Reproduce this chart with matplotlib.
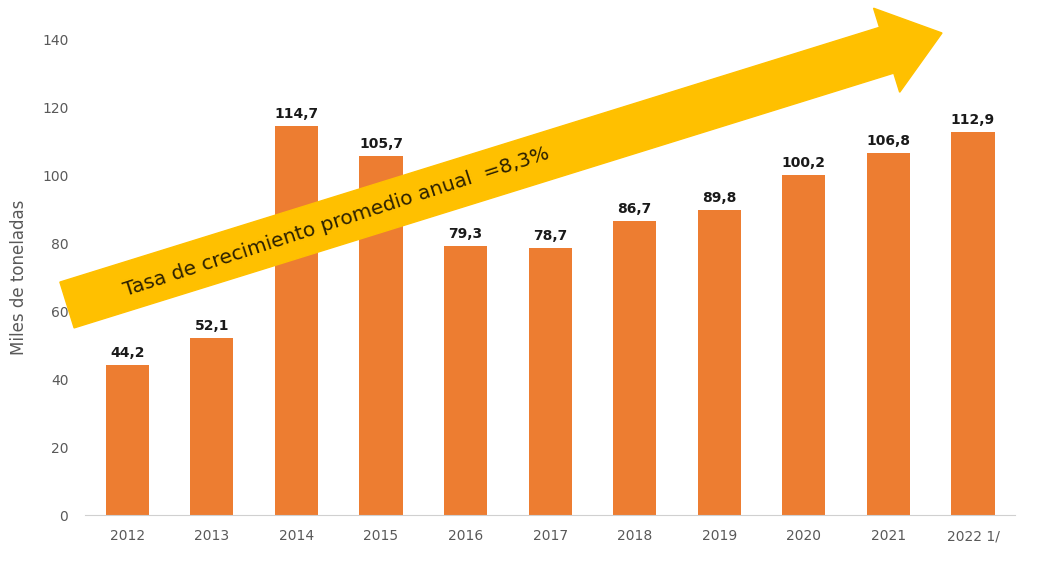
import numpy as np
import matplotlib
matplotlib.use("Agg")
import matplotlib.pyplot as plt
from matplotlib.patches import FancyArrow
from matplotlib.transforms import IdentityTransform

years = ["2012", "2013", "2014", "2015", "2016", "2017", "2018", "2019", "2020", "2021", "2022 1/"]
values = [44.2, 52.1, 114.7, 105.7, 79.3, 78.7, 86.7, 89.8, 100.2, 106.8, 112.9]
yticks = [0, 20, 40, 60, 80, 100, 120, 140]

fig = plt.figure(figsize=(10.37, 5.63), dpi=100)
ax = fig.add_axes([0.082, 0.085, 0.897, 0.844])

x = np.arange(len(years))
ax.bar(x, values, width=0.51, color="#ED7D31", zorder=2)
for xi, v in zip(x, values):
    ax.text(xi, v + 1.5, f"{v:.1f}".replace(".", ","), ha="center", va="bottom",
            fontsize=10, fontweight="bold", color="#1a1a1a")

ax.set_xlim(-0.5, 10.5)
ax.set_ylim(0, 140)
ax.set_xticks(x)
ax.set_xticklabels(years)
ax.set_yticks(yticks)
ax.tick_params(axis="both", length=0, colors="#595959", labelsize=10)
ax.tick_params(axis="x", pad=10)
ax.tick_params(axis="y", pad=12)
for s in ["top", "right", "left"]:
    ax.spines[s].set_visible(False)
ax.spines["bottom"].set_color("#d0d0d0")
ax.set_ylabel("Miles de toneladas", color="#595959", fontsize=12, labelpad=10)

# big yellow arrow (pixel coords)
x0, y0 = 67, 563 - 305
x1, y1 = 942, 563 - 33
arr = FancyArrow(x0, y0, x1 - x0, y1 - y0, width=48, head_width=88, head_length=58,
                 length_includes_head=True, color="#FFC000", transform=IdentityTransform(),
                 zorder=5)
fig.patches.append(arr)
fig.text(336 / 1037, 1 - 222 / 563, "Tasa de crecimiento promedio anual  =8,3%",
         rotation=18, rotation_mode="anchor", ha="center", va="center",
         fontsize=14.5, color="#2b2000", zorder=6)

fig.savefig("out.png", dpi=100)
